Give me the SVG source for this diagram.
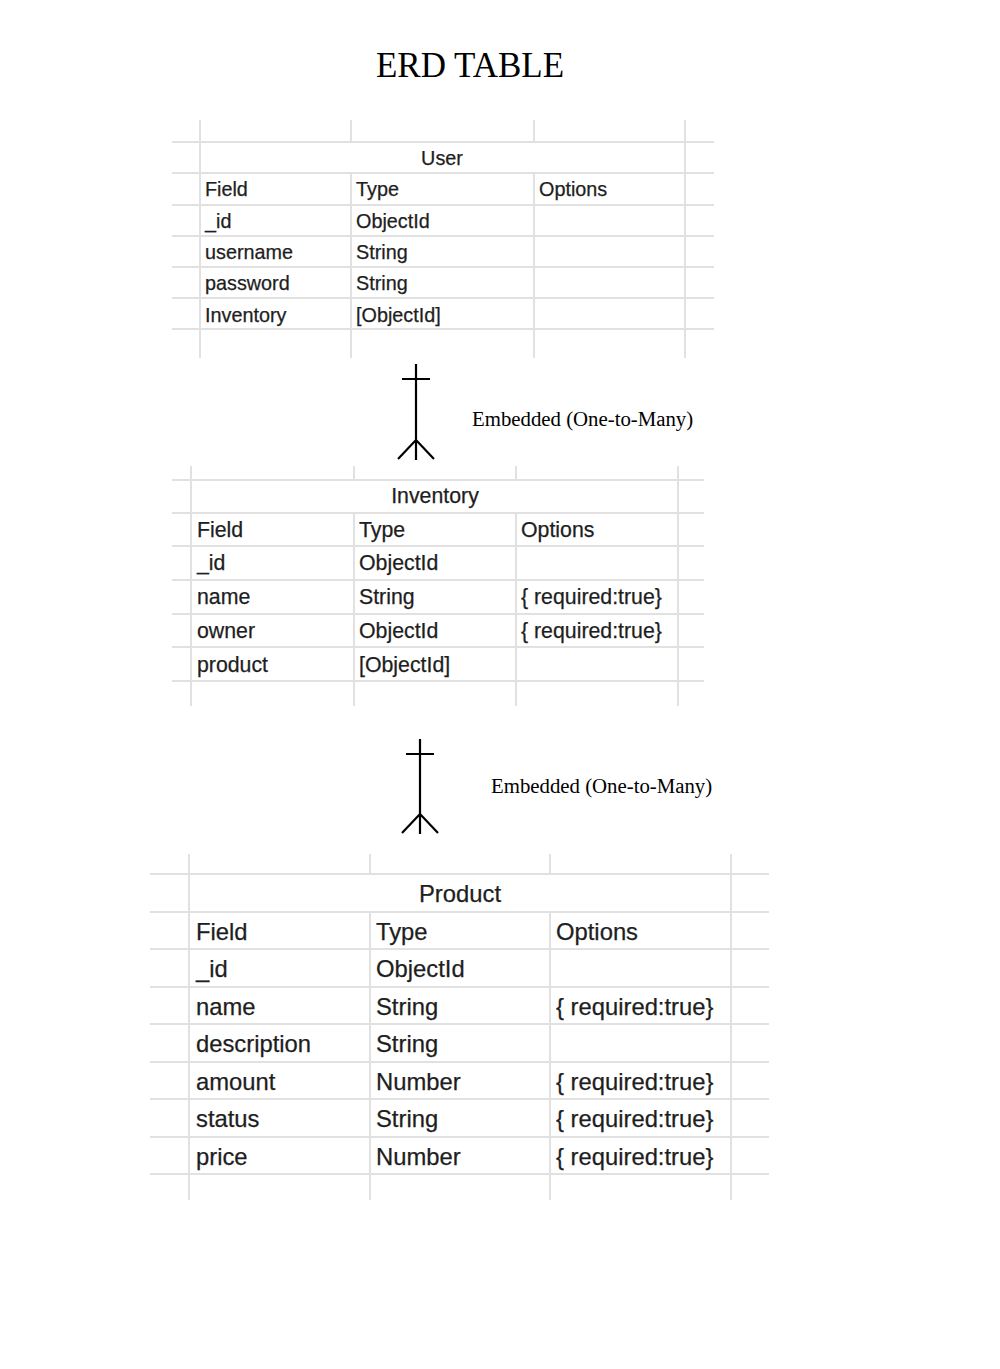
<svg xmlns="http://www.w3.org/2000/svg" width="1000" height="1369" viewBox="0 0 1000 1369">
<style>
.g{stroke:#e1e1e1;stroke-width:2;fill:none}
.t{font-family:"Liberation Sans",Arial,sans-serif;fill:#1e1e1e;stroke:#1e1e1e;stroke-width:0.25}
.u{font-size:19.8px}
.i{font-size:21.3px}
.p{font-size:23.8px}
.c{text-anchor:middle}
.con{stroke:#000;stroke-width:2.2;fill:none}
.lbl{font-family:"Liberation Serif","Times New Roman",serif;font-size:20.8px;fill:#000}
</style>
<rect width="1000" height="1369" fill="#fff"/>
<text x="470" y="77" text-anchor="middle" font-family="Liberation Serif, Times New Roman, serif" font-size="35" fill="#000">ERD TABLE</text>

<g id="user">
<path class="g" d="M172 142H714M172 173H714M172 205H714M172 236H714M172 267H714M172 298H714M172 329H714M200 120V358M351 120V358M534 120V358M685 120V358"/>
<path d="M201 143H684V172H201Z" fill="#fff"/>
<g class="t u">
<text class="c" x="442" y="165">User</text>
<text x="205" y="196">Field</text><text x="356" y="196">Type</text><text x="539" y="196">Options</text>
<text x="205" y="228">_id</text><text x="356" y="228">ObjectId</text>
<text x="205" y="259">username</text><text x="356" y="259">String</text>
<text x="205" y="290">password</text><text x="356" y="290">String</text>
<text x="205" y="322">Inventory</text><text x="356" y="322">[ObjectId]</text>
</g>
</g>

<g id="inventory">
<path class="g" d="M172 480H704M172 513H704M172 546H704M172 580H704M172 614H704M172 647H704M172 681H704M191 466V706M354 466V706M516 466V706M678 466V706"/>
<path d="M192 481H677V512H192Z" fill="#fff"/>
<g class="t i">
<text class="c" x="435" y="503">Inventory</text>
<text x="197" y="537">Field</text><text x="359" y="537">Type</text><text x="521" y="537">Options</text>
<text x="197" y="570">_id</text><text x="359" y="570">ObjectId</text>
<text x="197" y="604">name</text><text x="359" y="604">String</text><text x="521" y="604">{ required:true}</text>
<text x="197" y="638">owner</text><text x="359" y="638">ObjectId</text><text x="521" y="638">{ required:true}</text>
<text x="197" y="672">product</text><text x="359" y="672">[ObjectId]</text>
</g>
</g>

<g id="product">
<path class="g" d="M150 874H769M150 912H769M150 949H769M150 987H769M150 1024H769M150 1062H769M150 1099H769M150 1137H769M150 1174H769M189 854V1200M370 854V1200M550 854V1200M731 854V1200"/>
<path d="M190 875H730V911H190Z" fill="#fff"/>
<g class="t p">
<text class="c" x="460" y="902">Product</text>
<text x="196" y="940">Field</text><text x="376" y="940">Type</text><text x="556" y="940">Options</text>
<text x="196" y="977">_id</text><text x="376" y="977">ObjectId</text>
<text x="196" y="1015">name</text><text x="376" y="1015">String</text><text x="556" y="1015">{ required:true}</text>
<text x="196" y="1052">description</text><text x="376" y="1052">String</text>
<text x="196" y="1090">amount</text><text x="376" y="1090">Number</text><text x="556" y="1090">{ required:true}</text>
<text x="196" y="1127">status</text><text x="376" y="1127">String</text><text x="556" y="1127">{ required:true}</text>
<text x="196" y="1165">price</text><text x="376" y="1165">Number</text><text x="556" y="1165">{ required:true}</text>
</g>
</g>

<g id="connectors">
<path class="con" d="M416 364V460M402 379H430M416 440L398 459M416 440L434 459"/>
<text class="lbl" x="472" y="426">Embedded (One-to-Many)</text>
<path class="con" d="M420 739V834M406 754H434M420 814L402 833M420 814L438 833"/>
<text class="lbl" x="491" y="793">Embedded (One-to-Many)</text>
</g>
</svg>
